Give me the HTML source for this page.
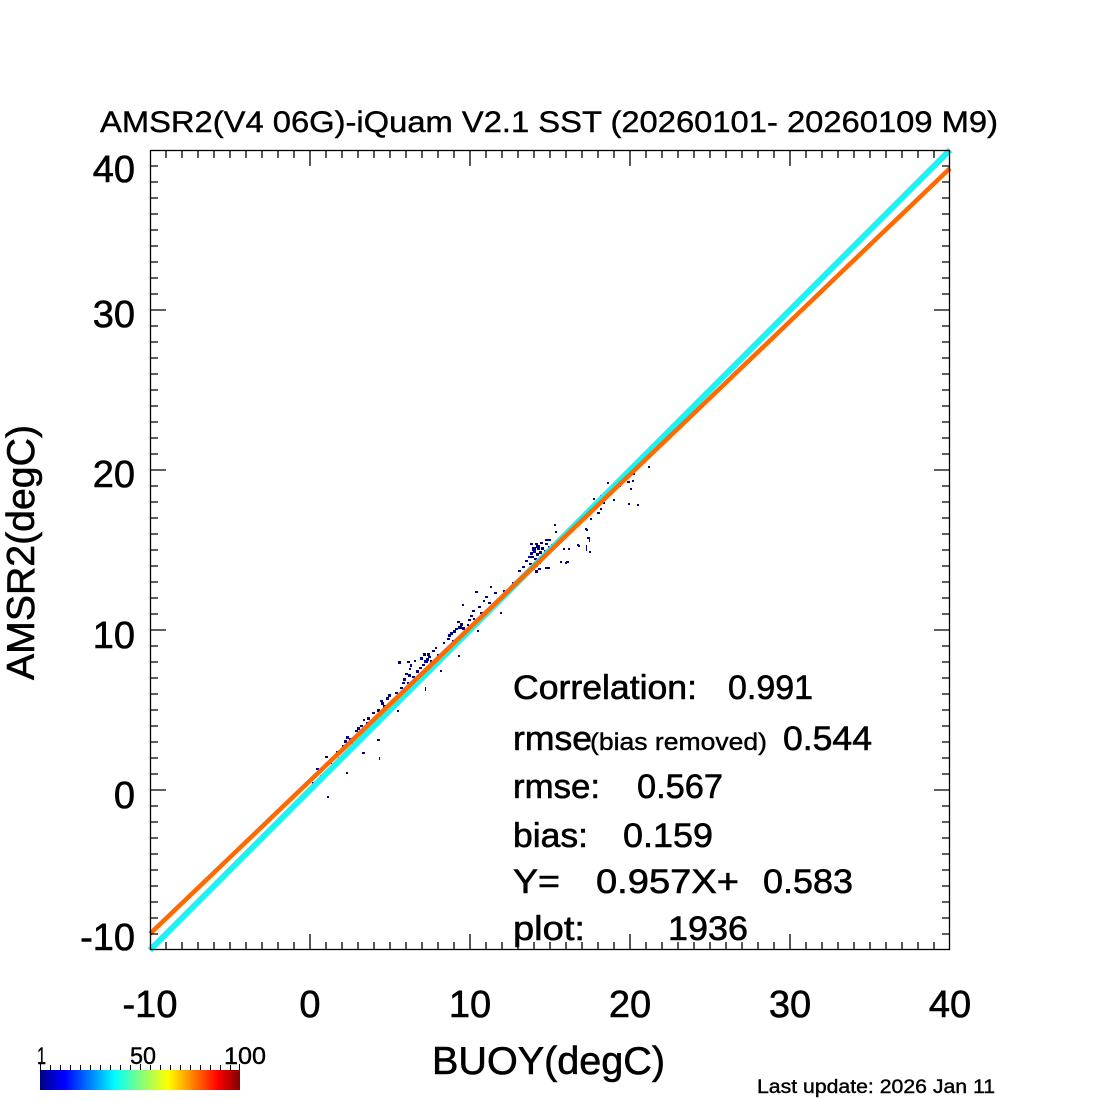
<!DOCTYPE html>
<html>
<head>
<meta charset="utf-8">
<style>
  html, body { margin:0; padding:0; background:#fff; }
  svg { display:block; }
  text { font-family: "Liberation Sans", "DejaVu Sans", sans-serif; fill:#000; }
  .b { stroke:#000; stroke-width:0.6; }
  .b2 { stroke:#000; stroke-width:0.4; }
</style>
</head>
<body>
<svg width="1100" height="1100" viewBox="0 0 1100 1100" xmlns="http://www.w3.org/2000/svg">
  <defs>
    <linearGradient id="jet" x1="0" y1="0" x2="1" y2="0">
      <stop offset="0" stop-color="#00007f"/>
      <stop offset="0.11" stop-color="#0000ff"/>
      <stop offset="0.125" stop-color="#0000ff"/>
      <stop offset="0.375" stop-color="#00ffff"/>
      <stop offset="0.5" stop-color="#7fff7f"/>
      <stop offset="0.64" stop-color="#ffff00"/>
      <stop offset="0.89" stop-color="#ff0000"/>
      <stop offset="1" stop-color="#7f0000"/>
    </linearGradient>
  </defs>
  <rect width="1100" height="1100" fill="#fff"/>

  <!-- Title -->
  <text class="b2" x="100" y="132" font-size="30" textLength="898" lengthAdjust="spacingAndGlyphs">AMSR2(V4 06G)-iQuam V2.1 SST (20260101- 20260109 M9)</text>

  <!-- scatter points -->
  <g fill="#000080">
    <rect x="316" y="768" width="3" height="2"/><rect x="325" y="756" width="3" height="2"/><rect x="327" y="796" width="2" height="2"/>
    <rect x="336" y="751" width="3" height="2"/><rect x="346" y="736" width="3" height="3"/><rect x="349" y="738" width="3" height="2"/>
    <rect x="346" y="772" width="2" height="2"/><rect x="362" y="752" width="3" height="2"/><rect x="363" y="719" width="2" height="2"/>
    <rect x="372" y="712" width="3" height="2"/><rect x="377" y="709" width="3" height="3"/><rect x="377" y="739" width="3" height="2"/>
    <rect x="379" y="757" width="1" height="3"/><rect x="388" y="694" width="3" height="3"/><rect x="397" y="710" width="2" height="2"/>
    <rect x="380" y="700" width="3" height="2"/><rect x="375" y="716" width="3" height="2"/><rect x="383" y="705" width="3" height="3"/>
    <rect x="360" y="725" width="3" height="2"/><rect x="355" y="730" width="3" height="2"/><rect x="342" y="745" width="3" height="2"/>
    <rect x="330" y="762" width="2" height="2"/><rect x="320" y="775" width="3" height="2"/><rect x="312" y="782" width="3" height="2"/>
    <rect x="350" y="742" width="3" height="2"/><rect x="338" y="757" width="2" height="2"/><rect x="366" y="722" width="2" height="2"/>
    <rect x="370" y="728" width="3" height="2"/><rect x="392" y="700" width="3" height="2"/><rect x="395" y="704" width="2" height="2"/>
    <rect x="386" y="697" width="3" height="3"/><rect x="381" y="702" width="3" height="3"/><rect x="389" y="703" width="3" height="2"/>
    <rect x="367" y="717" width="3" height="3"/><rect x="357" y="727" width="3" height="3"/><rect x="344" y="740" width="3" height="3"/>

    <rect x="398" y="661" width="3" height="3"/><rect x="407" y="661" width="3" height="2"/><rect x="410" y="664" width="2" height="3"/>
    <rect x="402" y="682" width="3" height="2"/><rect x="405" y="673" width="3" height="2"/><rect x="407" y="682" width="2" height="2"/>
    <rect x="423" y="653" width="3" height="3"/><rect x="426" y="658" width="3" height="3"/><rect x="428" y="656" width="3" height="2"/>
    <rect x="422" y="664" width="3" height="2"/><rect x="430" y="660" width="2" height="3"/><rect x="435" y="647" width="2" height="2"/>
    <rect x="443" y="642" width="2" height="2"/><rect x="425" y="687" width="1" height="4"/><rect x="440" y="670" width="2" height="2"/>
    <rect x="458" y="655" width="2" height="2"/><rect x="412" y="676" width="3" height="2"/><rect x="416" y="670" width="3" height="3"/>
    <rect x="419" y="667" width="3" height="2"/><rect x="432" y="650" width="3" height="2"/><rect x="437" y="654" width="3" height="2"/>
    <rect x="445" y="648" width="3" height="2"/><rect x="409" y="668" width="2" height="2"/><rect x="414" y="660" width="2" height="2"/>
    <rect x="400" y="687" width="3" height="2"/><rect x="395" y="692" width="3" height="2"/>
    <rect x="424" y="660" width="4" height="3"/><rect x="420" y="657" width="3" height="3"/><rect x="427" y="653" width="3" height="3"/>
    <rect x="403" y="678" width="3" height="3"/><rect x="408" y="674" width="3" height="3"/>

    <rect x="447" y="638" width="3" height="2"/><rect x="450" y="632" width="3" height="3"/><rect x="455" y="628" width="3" height="2"/>
    <rect x="460" y="623" width="3" height="3"/><rect x="462" y="627" width="3" height="3"/><rect x="465" y="630" width="3" height="2"/>
    <rect x="467" y="624" width="2" height="2"/><rect x="462" y="604" width="2" height="2"/><rect x="472" y="610" width="3" height="2"/>
    <rect x="473" y="618" width="2" height="2"/><rect x="475" y="591" width="3" height="2"/><rect x="477" y="630" width="2" height="2"/>
    <rect x="483" y="600" width="2" height="2"/><rect x="488" y="602" width="3" height="2"/><rect x="490" y="586" width="2" height="2"/>
    <rect x="500" y="612" width="2" height="2"/><rect x="503" y="590" width="2" height="2"/><rect x="470" y="615" width="3" height="2"/>
    <rect x="478" y="606" width="3" height="2"/><rect x="485" y="596" width="3" height="2"/><rect x="480" y="612" width="3" height="2"/>
    <rect x="452" y="640" width="2" height="2"/><rect x="457" y="621" width="3" height="2"/><rect x="468" y="619" width="3" height="2"/>
    <rect x="494" y="592" width="3" height="2"/><rect x="498" y="598" width="3" height="2"/>
    <rect x="458" y="626" width="4" height="3"/><rect x="453" y="630" width="3" height="3"/><rect x="448" y="634" width="3" height="3"/>

    <rect x="512" y="582" width="3" height="2"/><rect x="520" y="578" width="3" height="2"/><rect x="530" y="543" width="3" height="2"/>
    <rect x="535" y="543" width="3" height="2"/><rect x="540" y="542" width="3" height="2"/><rect x="545" y="543" width="3" height="2"/>
    <rect x="533" y="550" width="3" height="3"/><rect x="536" y="553" width="3" height="3"/><rect x="539" y="551" width="3" height="3"/>
    <rect x="531" y="556" width="3" height="2"/><rect x="534" y="558" width="3" height="2"/><rect x="537" y="548" width="3" height="2"/>
    <rect x="532" y="567" width="3" height="3"/><rect x="535" y="570" width="3" height="3"/><rect x="538" y="568" width="3" height="2"/>
    <rect x="547" y="567" width="3" height="2"/><rect x="554" y="524" width="2" height="2"/><rect x="555" y="531" width="2" height="2"/>
    <rect x="560" y="561" width="2" height="2"/><rect x="566" y="561" width="3" height="2"/><rect x="568" y="548" width="2" height="2"/>
    <rect x="577" y="544" width="2" height="2"/><rect x="586" y="529" width="2" height="2"/><rect x="588" y="537" width="2" height="2"/>
    <rect x="589" y="551" width="2" height="2"/><rect x="545" y="539" width="3" height="2"/><rect x="548" y="539" width="3" height="2"/>
    <rect x="563" y="548" width="2" height="2"/><rect x="565" y="562" width="2" height="2"/><rect x="545" y="567" width="2" height="2"/>
    <rect x="525" y="560" width="3" height="2"/><rect x="528" y="556" width="3" height="2"/><rect x="541" y="555" width="3" height="2"/>
    <rect x="544" y="550" width="3" height="2"/><rect x="548" y="546" width="3" height="2"/><rect x="518" y="570" width="3" height="2"/>
    <rect x="522" y="566" width="3" height="2"/><rect x="529" y="563" width="3" height="2"/><rect x="551" y="544" width="2" height="2"/>
    <rect x="556" y="540" width="3" height="2"/>
    <rect x="532" y="547" width="4" height="4"/><rect x="536" y="545" width="4" height="3"/><rect x="541" y="547" width="3" height="3"/>
    <rect x="534" y="563" width="4" height="4"/><rect x="538" y="561" width="3" height="3"/><rect x="530" y="552" width="3" height="3"/>

    <rect x="585" y="511" width="2" height="2"/><rect x="585" y="528" width="2" height="2"/><rect x="587" y="537" width="2" height="2"/>
    <rect x="578" y="545" width="2" height="2"/><rect x="593" y="498" width="2" height="2"/><rect x="600" y="508" width="2" height="2"/>
    <rect x="603" y="502" width="2" height="2"/><rect x="607" y="482" width="2" height="2"/><rect x="613" y="499" width="2" height="2"/>
    <rect x="628" y="503" width="2" height="2"/><rect x="637" y="504" width="2" height="2"/><rect x="630" y="488" width="2" height="2"/>
    <rect x="632" y="480" width="2" height="2"/><rect x="633" y="473" width="2" height="2"/><rect x="648" y="466" width="2" height="2"/>
    <rect x="590" y="518" width="2" height="2"/><rect x="597" y="512" width="3" height="2"/><rect x="600" y="495" width="2" height="2"/>
    <rect x="610" y="488" width="3" height="2"/><rect x="618" y="485" width="3" height="2"/><rect x="622" y="480" width="2" height="2"/>
    <rect x="627" y="481" width="3" height="2"/><rect x="586" y="545" width="1" height="6"/><rect x="589" y="538" width="1" height="4"/>
  </g>

  <!-- 1:1 line (cyan) and regression line (orange) -->
  <line x1="150" y1="950" x2="950" y2="150" stroke="#1ef2f2" stroke-width="6"/>
  <line x1="150" y1="933.8" x2="950" y2="168.2" stroke="#ff6a00" stroke-width="4.5"/>

  <!-- axes box -->
  <rect x="150.5" y="150.5" width="799" height="799" fill="none" stroke="#000" stroke-width="1.3"/>

  <!-- ticks -->
  <g stroke="#000" stroke-width="1.3">
    <path d="
M166,950v-8M182,950v-8M198,950v-8M214,950v-8M230,950v-8M246,950v-8M262,950v-8M278,950v-8M294,950v-8M310,950v-16
M326,950v-8M342,950v-8M358,950v-8M374,950v-8M390,950v-8M406,950v-8M422,950v-8M438,950v-8M454,950v-8M470,950v-16
M486,950v-8M502,950v-8M518,950v-8M534,950v-8M550,950v-8M566,950v-8M582,950v-8M598,950v-8M614,950v-8M630,950v-16
M646,950v-8M662,950v-8M678,950v-8M694,950v-8M710,950v-8M726,950v-8M742,950v-8M758,950v-8M774,950v-8M790,950v-16
M806,950v-8M822,950v-8M838,950v-8M854,950v-8M870,950v-8M886,950v-8M902,950v-8M918,950v-8M934,950v-8
M166,150v8M182,150v8M198,150v8M214,150v8M230,150v8M246,150v8M262,150v8M278,150v8M294,150v8M310,150v16
M326,150v8M342,150v8M358,150v8M374,150v8M390,150v8M406,150v8M422,150v8M438,150v8M454,150v8M470,150v16
M486,150v8M502,150v8M518,150v8M534,150v8M550,150v8M566,150v8M582,150v8M598,150v8M614,150v8M630,150v16
M646,150v8M662,150v8M678,150v8M694,150v8M710,150v8M726,150v8M742,150v8M758,150v8M774,150v8M790,150v16
M806,150v8M822,150v8M838,150v8M854,150v8M870,150v8M886,150v8M902,150v8M918,150v8M934,150v8
M150,166h8M150,182h8M150,198h8M150,214h8M150,230h8M150,246h8M150,262h8M150,278h8M150,294h8M150,310h16
M150,326h8M150,342h8M150,358h8M150,374h8M150,390h8M150,406h8M150,422h8M150,438h8M150,454h8M150,470h16
M150,486h8M150,502h8M150,518h8M150,534h8M150,550h8M150,566h8M150,582h8M150,598h8M150,614h8M150,630h16
M150,646h8M150,662h8M150,678h8M150,694h8M150,710h8M150,726h8M150,742h8M150,758h8M150,774h8M150,790h16
M150,806h8M150,822h8M150,838h8M150,854h8M150,870h8M150,886h8M150,902h8M150,918h8M150,934h8
M950,166h-8M950,182h-8M950,198h-8M950,214h-8M950,230h-8M950,246h-8M950,262h-8M950,278h-8M950,294h-8M950,310h-16
M950,326h-8M950,342h-8M950,358h-8M950,374h-8M950,390h-8M950,406h-8M950,422h-8M950,438h-8M950,454h-8M950,470h-16
M950,486h-8M950,502h-8M950,518h-8M950,534h-8M950,550h-8M950,566h-8M950,582h-8M950,598h-8M950,614h-8M950,630h-16
M950,646h-8M950,662h-8M950,678h-8M950,694h-8M950,710h-8M950,726h-8M950,742h-8M950,758h-8M950,774h-8M950,790h-16
M950,806h-8M950,822h-8M950,838h-8M950,854h-8M950,870h-8M950,886h-8M950,902h-8M950,918h-8M950,934h-8"/>
  </g>

  <!-- y tick labels -->
  <g font-size="38" text-anchor="end" class="b">
    <text x="135" y="182">40</text>
    <text x="135" y="327">30</text>
    <text x="135" y="487">20</text>
    <text x="135" y="648">10</text>
    <text x="135" y="808">0</text>
    <text x="135" y="950">-10</text>
  </g>

  <!-- x tick labels -->
  <g font-size="38" text-anchor="middle" class="b">
    <text x="150" y="1017">-10</text>
    <text x="310" y="1017">0</text>
    <text x="470" y="1017">10</text>
    <text x="630" y="1017">20</text>
    <text x="790" y="1017">30</text>
    <text x="950" y="1017">40</text>
  </g>

  <!-- axis titles -->
  <text class="b" x="432" y="1074" font-size="39" textLength="233" lengthAdjust="spacingAndGlyphs">BUOY(degC)</text>
  <text class="b" transform="translate(34,680) rotate(-90)" font-size="39" textLength="255" lengthAdjust="spacingAndGlyphs">AMSR2(degC)</text>

  <!-- stats -->
  <g font-size="34" class="b">
    <text x="513" y="699" textLength="184" lengthAdjust="spacingAndGlyphs">Correlation:</text>
    <text x="728" y="699" textLength="85" lengthAdjust="spacingAndGlyphs">0.991</text>

    <text x="513" y="750" textLength="79" lengthAdjust="spacingAndGlyphs">rmse</text>
    <text x="590" y="750" font-size="24" class="b2" textLength="177" lengthAdjust="spacingAndGlyphs">(bias removed)</text>
    <text x="783" y="750" textLength="89" lengthAdjust="spacingAndGlyphs">0.544</text>

    <text x="513" y="798" textLength="87" lengthAdjust="spacingAndGlyphs">rmse:</text>
    <text x="637" y="798" textLength="86" lengthAdjust="spacingAndGlyphs">0.567</text>

    <text x="513" y="847" textLength="75" lengthAdjust="spacingAndGlyphs">bias:</text>
    <text x="623" y="847" textLength="90" lengthAdjust="spacingAndGlyphs">0.159</text>

    <text x="513" y="893" textLength="47" lengthAdjust="spacingAndGlyphs">Y=</text>
    <text x="596" y="893" textLength="143" lengthAdjust="spacingAndGlyphs">0.957X+</text>
    <text x="763" y="893" textLength="90" lengthAdjust="spacingAndGlyphs">0.583</text>

    <text x="513" y="940" textLength="72" lengthAdjust="spacingAndGlyphs">plot:</text>
    <text x="668" y="940" textLength="80" lengthAdjust="spacingAndGlyphs">1936</text>
  </g>

  <!-- colorbar -->
  <rect x="40" y="1070" width="200" height="20" fill="url(#jet)"/>
  <path stroke="#000" stroke-width="1" d="M40.5,1070v-6M50.5,1070v-5M60.5,1070v-5M70.5,1070v-5M80.5,1070v-5M90.5,1070v-5M100.5,1070v-5M110.5,1070v-5M120.5,1070v-5M130.5,1070v-5M140.5,1070v-6M150.5,1070v-5M160.5,1070v-5M170.5,1070v-5M180.5,1070v-5M190.5,1070v-5M200.5,1070v-5M210.5,1070v-5M220.5,1070v-5M230.5,1070v-5M239.5,1070v-6"/>
  <g font-size="24" class="b2">
    <text x="37" y="1064" textLength="9" lengthAdjust="spacingAndGlyphs">1</text>
    <text x="130" y="1064" textLength="26" lengthAdjust="spacingAndGlyphs">50</text>
    <text x="224" y="1064" textLength="42" lengthAdjust="spacingAndGlyphs">100</text>
  </g>

  <!-- last update -->
  <text class="b2" x="757" y="1093" font-size="19" textLength="238" lengthAdjust="spacingAndGlyphs">Last update: 2026 Jan 11</text>
</svg>
</body>
</html>
